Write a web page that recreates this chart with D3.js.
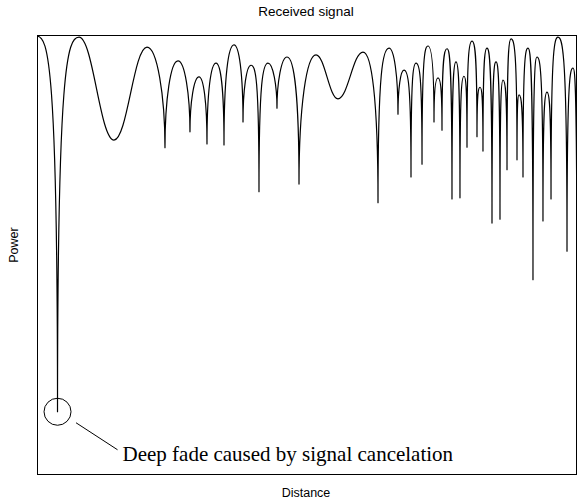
<!DOCTYPE html>
<html><head><meta charset="utf-8">
<script src="https://cdn.jsdelivr.net/npm/d3@7"></script>
<style>html,body{margin:0;padding:0;background:#fff}svg{display:block}</style>
</head><body><svg id="chart" width="586" height="502"></svg>
<script>
// ---- data ----
const titleText = "Received signal";
const xLabelText = "Distance";
const yLabelText = "Power";
const annotationText = "Deep fade caused by signal cancelation";

// extrema of the received power curve, in order along the distance axis
const distance = [0, 3.8, 7.78, 14.26, 20.37, 23.7, 26.11, 28.33, 30.0, 31.48,
  33.15, 34.63, 36.48, 38.15, 39.63, 41.11, 42.78, 44.44, 46.3, 48.52,
  51.67, 55.74, 60.37, 63.15, 65.19, 66.85, 67.96, 69.26, 70.19, 71.3,
  72.41, 73.52, 74.26, 75.0, 75.93, 76.85, 77.59, 78.33, 79.07, 79.63,
  80.56, 81.48, 82.04, 82.59, 83.33, 84.26, 85.0, 85.74, 86.3, 87.04,
  87.78, 88.89, 89.26, 90.0, 90.93, 91.85, 92.59, 93.7, 94.44, 95.19,
  96.48, 98.15, 99.26, 100];
const power = [-0.2, -68.5, -0.4, -19.1, -2.2, -20.5, -4.7, -17.6, -7.6, -19.8,
  -5.1, -20.0, -1.8, -15.8, -5.5, -28.5, -5.1, -13.3, -4.0, -27.1,
  -3.6, -11.6, -3.1, -30.5, -2.4, -14.4, -6.4, -25.8, -5.1, -23.5,
  -2.0, -15.8, -7.8, -17.3, -2.5, -29.8, -4.9, -29.6, -7.5, -20.4,
  -1.1, -18.5, -9.5, -21.1, -2.4, -34.2, -4.9, -33.5, -8.2, -24.5,
  -0.7, -22.7, -10.9, -25.8, -2.4, -44.5, -4.0, -33.8, -10.4, -29.8,
  -0.4, -39.3, -6.0, -50.5];
const distanceDomain = [0, 100];
const powerDomain = [-80, 0];

// ---- layout ----
const W = 586, H = 502;
const margin = {left: 37, right: 9, top: 35, bottom: 27};
const svg = d3.select("#chart");
const x = d3.scaleLinear().domain(distanceDomain).range([margin.left, W - margin.right]);
const y = d3.scaleLinear().domain(powerDomain).range([H - margin.bottom, margin.top]);

// curve with rounded peaks and cusp-like deep fades
function fadeCurve(context) {
  let pts = [];
  return {
    areaStart() {}, areaEnd() {},
    lineStart() { pts = []; },
    point(px, py) { pts.push([+px, +py]); },
    lineEnd() {
      const n = pts.length;
      if (!n) return;
      const type = pts.map((p, i) => {
        const a = pts[i - 1], b = pts[i + 1];
        const lowerThan = q => q && p[1] > q[1];
        if (a && b) {
          if (lowerThan(a) && lowerThan(b)) {
            const r = ((p[1] - a[1]) + (p[1] - b[1])) / ((p[0] - a[0]) + (b[0] - p[0]));
            return r > 3.5 ? "v" : "h";
          }
          return "h";
        }
        const q = a || b;
        if (lowerThan(q)) return (p[1] - q[1]) / Math.abs(p[0] - q[0]) > 3.5 ? "v" : "h";
        return "h";
      });
      context.moveTo(pts[0][0], pts[0][1]);
      for (let i = 0; i < n - 1; i++) {
        const A = pts[i], B = pts[i + 1];
        const dx = B[0] - A[0], dy = B[1] - A[1];
        const r = Math.abs(dy) / Math.max(dx, 1e-6);
        const kv = Math.min(0.92, 0.3 + r / 25);
        const khA = type[i + 1] === "v" ? 0.55 : 0.4;
        const khB = type[i] === "v" ? 0.55 : 0.4;
        const c1 = type[i] === "h" ? [A[0] + khA * dx, A[1]] : [A[0], A[1] + kv * dy];
        const c2 = type[i + 1] === "h" ? [B[0] - khB * dx, B[1]] : [B[0], B[1] - kv * dy];
        context.bezierCurveTo(c1[0], c1[1], c2[0], c2[1], B[0], B[1]);
      }
    }
  };
}

const data = distance.map((d, i) => ({d, p: power[i]}));

svg.append("defs").append("clipPath").attr("id", "plot-clip")
  .append("rect")
  .attr("x", margin.left).attr("y", margin.top)
  .attr("width", W - margin.left - margin.right)
  .attr("height", H - margin.top - margin.bottom);

const line = d3.line().x(v => x(v.d)).y(v => y(v.p)).curve(fadeCurve);

svg.append("path")
  .datum(data)
  .attr("clip-path", "url(#plot-clip)")
  .attr("fill", "none")
  .attr("stroke", "#000")
  .attr("stroke-width", 1.2)
  .attr("stroke-linejoin", "round")
  .attr("d", line);

// frame
svg.append("rect")
  .attr("x", margin.left + 0.5).attr("y", margin.top + 0.5)
  .attr("width", W - margin.left - margin.right - 1)
  .attr("height", H - margin.top - margin.bottom - 1)
  .attr("fill", "none").attr("stroke", "#000").attr("stroke-width", 1);

// labels
const sans = "'Liberation Sans', Arial, Helvetica, sans-serif";
const cx = (margin.left + W - margin.right) / 2;
svg.append("text").attr("x", cx - 1).attr("y", 16)
  .attr("text-anchor", "middle").attr("font-family", sans).attr("font-size", 13.5)
  .text(titleText);
svg.append("text").attr("x", cx - 1).attr("y", 497)
  .attr("text-anchor", "middle").attr("font-family", sans).attr("font-size", 12.5)
  .text(xLabelText);
svg.append("text").attr("transform", `translate(18,245) rotate(-90)`)
  .attr("text-anchor", "middle").attr("font-family", sans).attr("font-size", 12.5)
  .text(yLabelText);

// annotation of the deepest fade
const iMin = d3.minIndex(power);
const fx = x(distance[iMin]), fy = y(power[iMin]);
svg.append("circle").attr("cx", fx).attr("cy", fy).attr("r", 13.5)
  .attr("fill", "none").attr("stroke", "#000").attr("stroke-width", 1);
svg.append("line")
  .attr("x1", fx + 18.5).attr("y1", fy + 11)
  .attr("x2", fx + 60).attr("y2", fy + 38)
  .attr("stroke", "#000").attr("stroke-width", 1);
svg.append("text").attr("x", fx + 65).attr("y", fy + 49)
  .attr("font-family", "'Liberation Serif', 'Times New Roman', Times, serif")
  .attr("font-size", 21)
  .text(annotationText);
</script>
</body></html>
